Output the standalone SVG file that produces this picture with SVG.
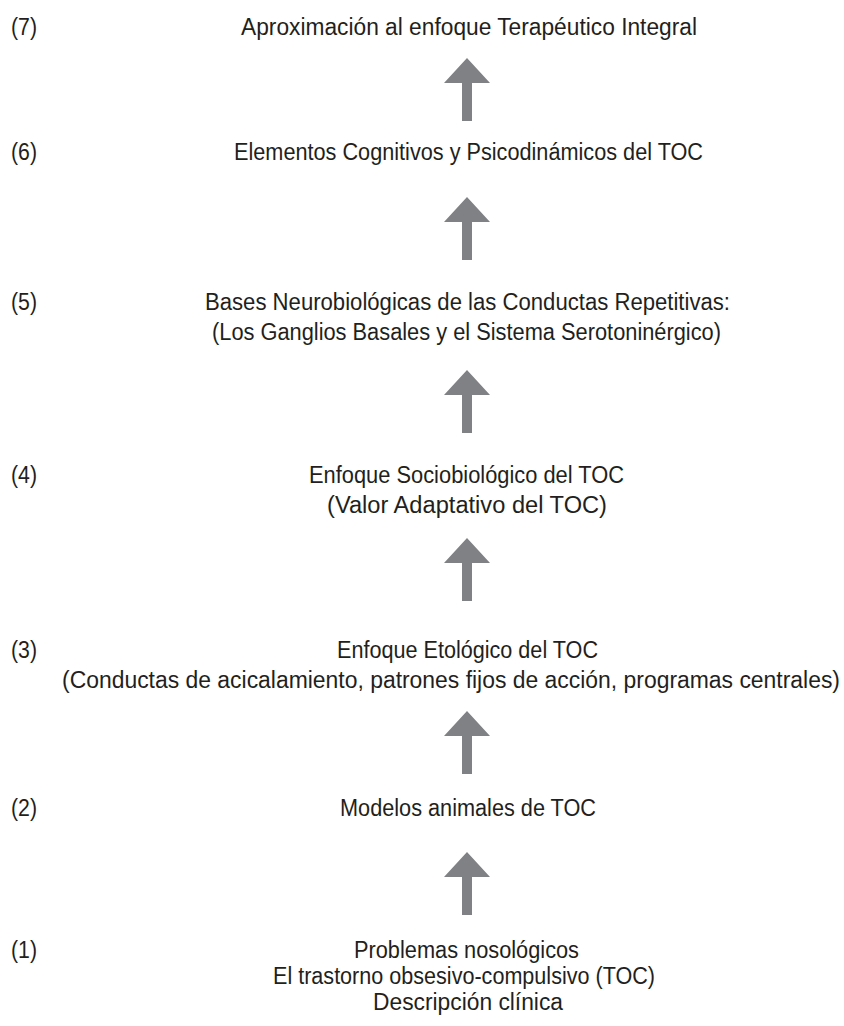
<svg xmlns="http://www.w3.org/2000/svg" width="844" height="1026" viewBox="0 0 844 1026">
<style>
text{font-family:"Liberation Sans","Noto Sans",sans-serif;font-size:23px;fill:#231f20}
.arr{fill:#808184}
</style>
<defs>
<path id="up" d="M0,0 L23,25 L5,25 L5,63 L-5,63 L-5,25 L-23,25 Z"/>
</defs>
<rect width="844" height="1026" fill="#fff"/>
<g id="n7">
<text x="11" y="35" textLength="26" lengthAdjust="spacingAndGlyphs">(7)</text>
<text x="241" y="35" textLength="456" lengthAdjust="spacingAndGlyphs">Aproximación al enfoque Terapéutico Integral</text>
</g>
<g id="n6">
<text x="11" y="160" textLength="26" lengthAdjust="spacingAndGlyphs">(6)</text>
<text x="234" y="160" textLength="469" lengthAdjust="spacingAndGlyphs">Elementos Cognitivos y Psicodinámicos del TOC</text>
</g>
<g id="n5">
<text x="11" y="310" textLength="26" lengthAdjust="spacingAndGlyphs">(5)</text>
<text x="205" y="310" textLength="525" lengthAdjust="spacingAndGlyphs">Bases Neurobiológicas de las Conductas Repetitivas:</text>
<text x="212" y="340" textLength="509" lengthAdjust="spacingAndGlyphs">(Los Ganglios Basales y el Sistema Serotoninérgico)</text>
</g>
<g id="n4">
<text x="11" y="483" textLength="26" lengthAdjust="spacingAndGlyphs">(4)</text>
<text x="309" y="483" textLength="315" lengthAdjust="spacingAndGlyphs">Enfoque Sociobiológico del TOC</text>
<text x="327" y="513" textLength="280" lengthAdjust="spacingAndGlyphs">(Valor Adaptativo del TOC)</text>
</g>
<g id="n3">
<text x="11" y="658" textLength="26" lengthAdjust="spacingAndGlyphs">(3)</text>
<text x="337" y="658" textLength="261" lengthAdjust="spacingAndGlyphs">Enfoque Etológico del TOC</text>
<text x="62" y="688" textLength="778" lengthAdjust="spacingAndGlyphs">(Conductas de acicalamiento, patrones fijos de acción, programas centrales)</text>
</g>
<g id="n2">
<text x="11" y="816" textLength="26" lengthAdjust="spacingAndGlyphs">(2)</text>
<text x="340" y="816" textLength="256" lengthAdjust="spacingAndGlyphs">Modelos animales de TOC</text>
</g>
<g id="n1">
<text x="11" y="958" textLength="26" lengthAdjust="spacingAndGlyphs">(1)</text>
<text x="354" y="958" textLength="225" lengthAdjust="spacingAndGlyphs">Problemas nosológicos</text>
<text x="273" y="984" textLength="382" lengthAdjust="spacingAndGlyphs">El trastorno obsesivo-compulsivo (TOC)</text>
<text x="373" y="1010" textLength="190" lengthAdjust="spacingAndGlyphs">Descripción clínica</text>
</g>
<g id="connectors" class="arr">
<use href="#up" x="467" y="58"/>
<use href="#up" x="467" y="197"/>
<use href="#up" x="467" y="370"/>
<use href="#up" x="467" y="538"/>
<use href="#up" x="467" y="711"/>
<use href="#up" x="467" y="852"/>
</g>
</svg>
